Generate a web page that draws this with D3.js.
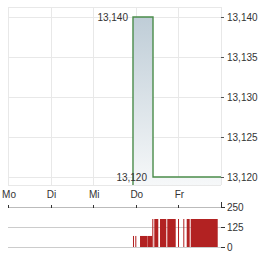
<!DOCTYPE html>
<html><head><meta charset="utf-8">
<script src="https://cdn.jsdelivr.net/npm/d3@7"></script>
<style>body{margin:0;background:#fff}svg{display:block;font-family:"Liberation Sans",Arial,sans-serif}</style>
</head><body><svg id="c" width="264" height="255"></svg>
<script>
// Days (position index on the time axis)
const dayLabels = ["Mo","Di","Mi","Do","Fr"];
// Price series (time in days from Monday start)
const priceTimes = [2.934, 3.404, 3.404, 5.0];
const priceValues = [13140, 13140, 13120, 13120];
const priceTicks = [13120, 13125, 13130, 13135, 13140];
const maxLabel = "13,140";
const minLabel = "13,120";
// Volume bars: start time, end time, volume
const volStart = [2.934, 2.988, 3.099, 3.286, 3.387, 3.434, 3.568, 3.739, 3.991, 4.115, 4.195, 4.289];
const volEnd   = [2.958, 3.012, 3.279, 3.387, 3.411, 3.528, 3.716, 3.937, 4.014, 4.138, 4.265, 4.923];
const volValues= [69, 69, 69, 69, 175, 175, 175, 175, 175, 175, 175, 175];
const volTicks = [0, 125, 250];

const svg = d3.select("#c");
const L = 8, R = 221;
const x = d3.scaleLinear().domain([0, 5]).range([L, R]);
const y = d3.scaleLinear().domain([13119, 13141.25]).range([185, 7]);
const yv = d3.scaleLinear().domain([0, 250]).range([247, 207]);
const fmt = d3.format(",");
const txt = "#333";

// gradient
const defs = svg.append("defs");
const g = defs.append("linearGradient").attr("id","ag").attr("x1",0).attr("y1",0).attr("x2",0).attr("y2",1);
g.append("stop").attr("offset","0%").attr("stop-color","#bfcdd7");
g.append("stop").attr("offset","100%").attr("stop-color","#f6f8f9");

// main grid
const grid = svg.append("g").attr("stroke","#e8e8e8").attr("stroke-width",1);
d3.range(0, 6).forEach(d => grid.append("line").attr("x1",Math.round(x(d))+0.5).attr("x2",Math.round(x(d))+0.5).attr("y1",7).attr("y2",185));
[...priceTicks, 13119, 13141.25].forEach(v => grid.append("line").attr("x1",L).attr("x2",R).attr("y1",Math.round(y(v))+0.5).attr("y2",Math.round(y(v))+0.5));

// area + line
const pts = priceTimes.map((t,i)=>[t, priceValues[i]]);
svg.append("path").datum(pts)
  .attr("d", d3.area().x(d=>x(d[0])).y0(185).y1(d=>y(d[1])))
  .attr("fill","url(#ag)");
svg.append("path").datum([[priceTimes[0], 13119], ...pts])
  .attr("d", d3.line().x(d=>x(d[0])).y(d=>y(d[1])))
  .attr("fill","none").attr("stroke","#4a8c4a").attr("stroke-width",1.4);

// right price axis
const ra = svg.append("g").attr("transform",`translate(${R},0)`)
  .call(d3.axisRight(y).tickValues(priceTicks).tickSize(3).tickPadding(3).tickFormat(fmt));
ra.select(".domain").remove();
ra.selectAll("line").attr("stroke","#555");
ra.selectAll("text").attr("fill",txt).attr("font-size",10).attr("font-family","Liberation Sans, Arial, sans-serif");

// max / min labels
svg.append("text").attr("x",128).attr("y",y(13140)).attr("dy","0.35em").attr("text-anchor","end")
  .attr("font-size",10).attr("fill",txt).text(maxLabel);
svg.append("text").attr("x",147).attr("y",y(13120)).attr("dy","0.35em").attr("text-anchor","end")
  .attr("font-size",10).attr("fill",txt).text(minLabel);

// day labels
svg.append("g").selectAll("text").data(dayLabels).join("text")
  .attr("x",(d,i)=>x(i)+1).attr("y",194).attr("dy","0.35em").attr("text-anchor","middle")
  .attr("font-size",10).attr("fill",txt).text(d=>d);

// volume panel
const vg = svg.append("g");
vg.append("line").attr("x1",L).attr("x2",R).attr("y1",207.5).attr("y2",207.5).attr("stroke","#bbb");
[0,125].forEach(v=>vg.append("line").attr("x1",L).attr("x2",R).attr("y1",Math.round(yv(v))+0.5).attr("y2",Math.round(yv(v))+0.5).attr("stroke","#ccc"));
d3.range(0,5).forEach(d=>vg.append("line").attr("x1",Math.round(x(d))+0.5).attr("x2",Math.round(x(d))+0.5).attr("y1",205).attr("y2",208).attr("stroke","#333"));
vg.append("line").attr("x1",R+0.5).attr("x2",R+0.5).attr("y1",202).attr("y2",208).attr("stroke","#333");
vg.selectAll("rect").data(volValues).join("rect")
  .attr("x",(d,i)=>x(volStart[i]))
  .attr("width",(d,i)=>Math.max(1, x(volEnd[i])-x(volStart[i])))
  .attr("y",d=>yv(d)).attr("height",d=>yv(0)-yv(d))
  .attr("fill","#b22222");
const va = svg.append("g").attr("transform",`translate(${R},0)`)
  .call(d3.axisRight(yv).tickValues(volTicks).tickSize(4).tickPadding(2));
va.select(".domain").remove();
va.selectAll("line").attr("stroke","#333");
va.selectAll("text").attr("fill",txt).attr("font-size",10).attr("font-family","Liberation Sans, Arial, sans-serif");
</script></body></html>
